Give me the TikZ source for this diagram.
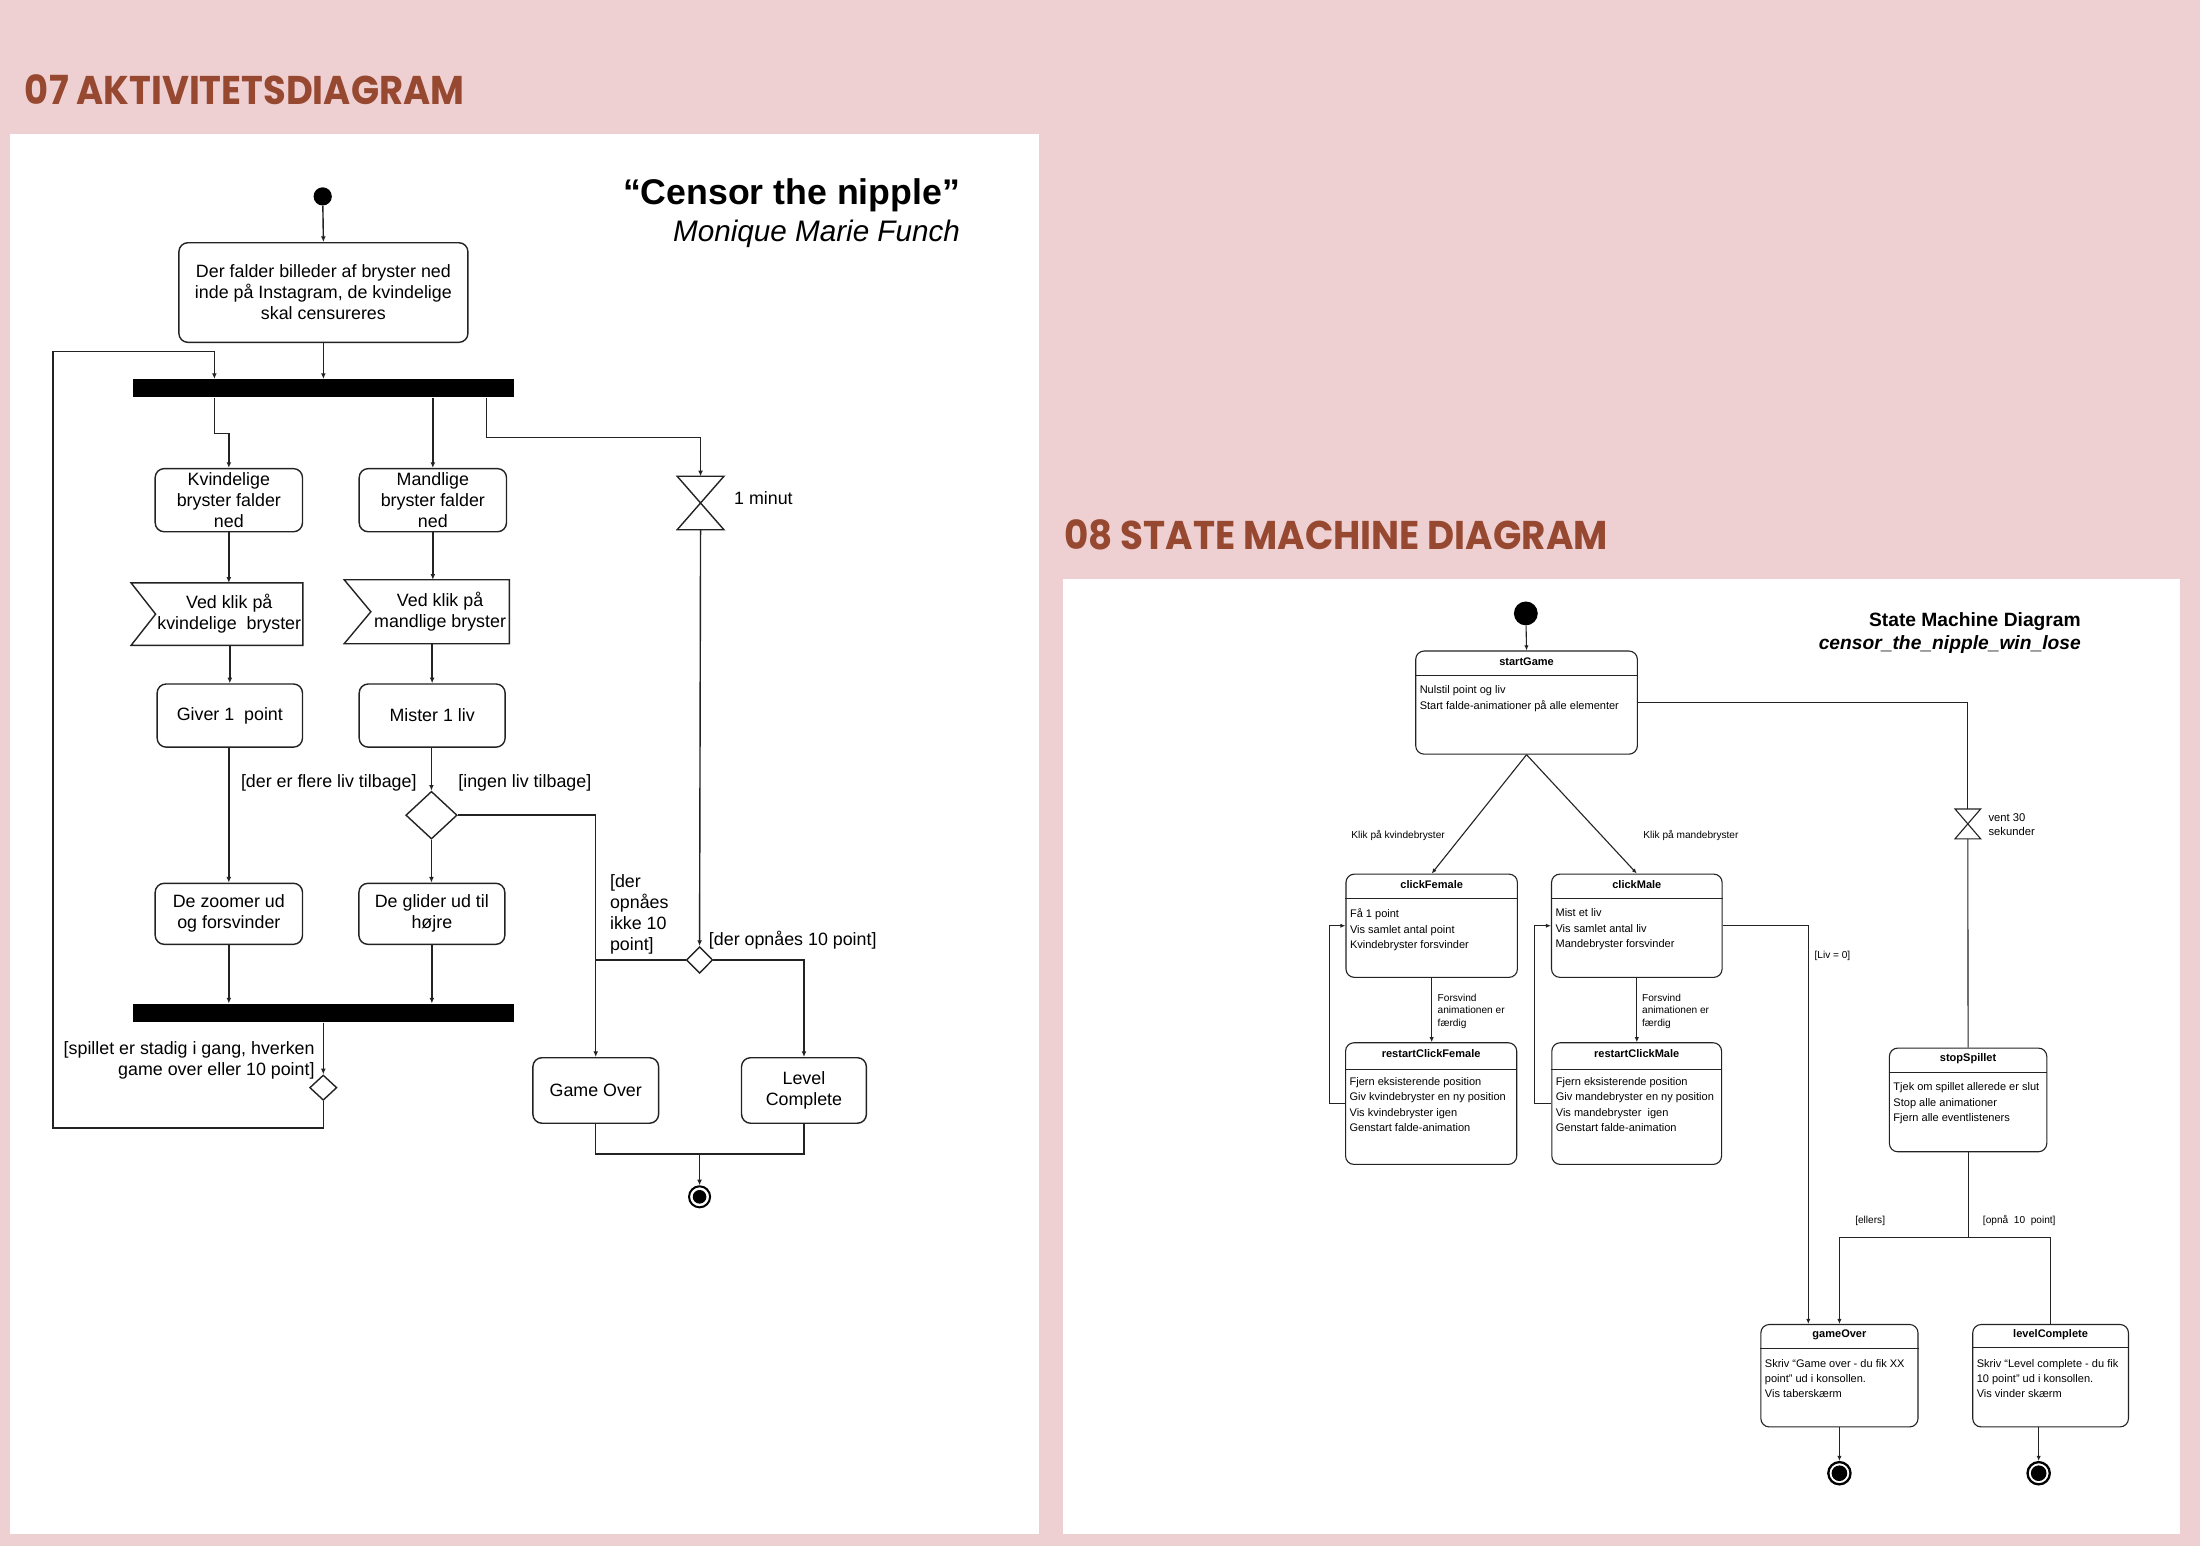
\documentclass[tikz,border=0pt]{standalone}
\usepackage{fontspec}
\setmainfont{Liberation Sans}
\newfontfamily\popfont{Poppins}
\usetikzlibrary{shapes.geometric,arrows.meta,calc}
\definecolor{bgpink}{RGB}{239,208,210}
\definecolor{headc}{RGB}{150,72,48}
\definecolor{lnc}{RGB}{35,35,35}
\newcommand\mkstate[8]{%
  \node[sbox, sz={#4}{#5}] (#1) at (#2,#3) {};
  \node[shead] (#1-h) at ($(#1.north)+(0,7.8)$) {#6};
  \draw[sline] ($(#1.north west)+(0,#7)$) -- ($(#1.north east)+(0,#7)$);
  \node[sbody] (#1-b) at ($(#1.north west)+(3,24.9)$) {#8};}
\begin{document}
\begin{tikzpicture}[x=0.7pt,y=-0.7pt,
  sz/.style 2 args={minimum width=#1*0.7pt, minimum height=#2*0.7pt},
  abox/.style={draw=lnc, line width=0.7pt, rounded corners=4.5pt, align=center, inner sep=0pt, font=\fontsize{8.9pt}{10.5pt}\selectfont},
  sigtext/.style={inner sep=0pt, align=center, font=\fontsize{8.9pt}{10.5pt}\selectfont},
  bar/.style={fill=black, draw=none, inner sep=0pt},
  adiam/.style={diamond, draw=lnc, line width=0.7pt, inner sep=0pt},
  aline/.style={draw=lnc, line width=0.7pt},
  arr/.style={draw=lnc, line width=0.7pt, -{Latex[length=2.8pt,width=2.4pt]}},
  alab/.style={inner sep=0pt, align=left, font=\fontsize{8.9pt}{10.5pt}\selectfont},
  sbox/.style={draw=lnc, line width=0.55pt, rounded corners=4.2pt, inner sep=0pt},
  shead/.style={inner sep=0pt, font=\fontsize{5.5pt}{7pt}\selectfont\bfseries},
  sbody/.style={inner sep=0pt, align=left, anchor=north west, font=\fontsize{5.5pt}{7.63pt}\selectfont},
  slab/.style={inner sep=0pt, align=left, anchor=west, font=\fontsize{5.05pt}{6.25pt}\selectfont},
  sline/.style={draw=lnc, line width=0.55pt},
  sarr/.style={draw=lnc, line width=0.55pt, -{Latex[length=2.5pt,width=2.1pt]}},
  heading/.style={anchor=base west, inner sep=0pt, text=headc, font=\popfont\fontsize{20pt}{24pt}\selectfont\bfseries}
]
% background and panels
\useasboundingbox (0,0) rectangle (1568,1102);
\fill[bgpink] (0,0) rectangle (1568,1102);
\fill[white] (7,95.7) rectangle (740.5,1093);
\fill[white] (757.6,412.7) rectangle (1553.8,1093);

\node[heading] (hd1) at (17.5,74.3) {\scalebox{0.92}[1]{07 AKTIVITETSDIAGRAM}};
\node[heading] (hd2) at (758.4,391.5) {\scalebox{0.93}[1]{08 STATE MACHINE DIAGRAM}};

% ================= Activity diagram =================
\node[anchor=base east, inner sep=0pt, font=\fontsize{17.8pt}{20pt}\selectfont\bfseries] (t1) at (684.5,145.5) {“Censor the nipple”};
\node[anchor=base east, inner sep=0pt, font=\fontsize{14.8pt}{17pt}\selectfont\itshape] (t2) at (684.5,172) {Monique Marie Funch};

\node[circle, fill=black, inner sep=0pt, minimum size=9.1pt] (ai) at (230,140) {};
\node[abox, sz={206}{71}] (a1) at (230.5,208.5) {Der falder billeder af bryster ned\\inde på Instagram, de kvindelige\\skal censureres};
\node[bar, sz={272}{12.8}] (b1) at (230.6,276.8) {};
\node[abox, sz={105}{45}] (kf) at (163.1,356.5) {Kvindelige\\bryster falder\\ned};
\node[abox, sz={105}{45}] (km) at (308.5,356.5) {Mandlige\\bryster falder\\ned};
\node[sigtext, sz={104.4}{44}] (sf) at (163.4,437.7) {Ved klik på\\kvindelige~~bryster};
\node[sigtext, sz={98.1}{45}] (sm) at (313.65,436) {Ved klik på\\mandlige bryster};
\draw[aline] ($(sf.north west)+(-17.5,0)$) -- (sf.north east) -- (sf.south east) -- ($(sf.south west)+(-17.5,0)$) -- (sf.west) -- cycle;
\draw[aline] ($(sm.north west)+(-19,0)$) -- (sm.north east) -- (sm.south east) -- ($(sm.south west)+(-19,0)$) -- (sm.west) -- cycle;
\node[abox, sz={103.6}{45}] (gv) at (163.8,510) {Giver 1~~point};
\node[abox, sz={104}{45}] (ms) at (308,510) {Mister 1 liv};
\node[adiam, sz={36.6}{34}] (d1) at (307.5,581) {};
\node[abox, sz={105}{43.5}] (zo) at (163.1,651.3) {De zoomer ud\\og forsvinder};
\node[abox, sz={104}{43.5}] (gl) at (307.8,651.3) {De glider ud til\\højre};
\node[bar, sz={271}{13}] (b2) at (230.5,722) {};
\node[adiam, sz={19.4}{18}] (d3) at (230.4,775.2) {};
\node[inner sep=0pt, sz={32.8}{37.6}] (h1) at (499.3,358.5) {};
\draw[aline] (h1.north west) -- (h1.north east) -- (h1.south west) -- (h1.south east) -- cycle;
\node[adiam, sz={18.8}{19}] (d2) at (498.6,684.2) {};
\node[abox, sz={89.6}{46.7}] (go1) at (424.6,777.2) {Game Over};
\node[abox, sz={89}{46.7}] (lc1) at (573,777.2) {Level\\Complete};
\node[circle, draw=black, line width=1pt, inner sep=0pt, minimum size=10.5pt] (af) at (498.6,853) {};
\fill[black] (af.center) circle[radius=3.4pt];

% activity labels
\node[alab, anchor=west] (l1) at (171.5,558) {[der er flere liv tilbage]};
\node[alab, anchor=west] (l2) at (326.4,558) {[ingen liv tilbage]};
\node[alab, anchor=west] (l3) at (434.5,651.9) {[der\\opnåes\\ikke 10\\point]};
\node[alab, anchor=west] (l4) at (505,670) {[der opnåes 10 point]};
\node[alab, anchor=east, align=right] (l5) at (224.5,755.5) {[spillet er stadig i gang, hverken\\game over eller 10 point]};
\node[alab, anchor=west] (l6) at (523,355) {1 minut};

% activity connectors
\coordinate (fL) at (152.8,309);
\coordinate (fR) at (346.9,311.7);
\coordinate (lpA) at (37.7,804);
\coordinate (lpB) at (152.8,250.7);
\coordinate (mg) at (498.6,822.5);
\draw[arr] (ai) -- (a1.north);
\draw[arr] (a1.south) -- (a1.south |- b1.north);
\draw[arr] (fL |- b1.south) -- (fL) -- (fL -| kf.north) -- (kf.north);
\draw[arr] (km.north |- b1.south) -- (km.north);
\draw[arr] (fR |- b1.south) -- (fR) -- (fR -| h1.north) -- (h1.north);
\draw[arr] (kf.south) -- (kf.south |- sf.north);
\draw[arr] (km.south) -- (km.south |- sm.north);
\draw[arr] (gv.north |- sf.south) -- (gv.north);
\draw[arr] (ms.north |- sm.south) -- (ms.north);
\draw[arr] (zo.north |- gv.south) -- (zo.north);
\draw[arr] (d1.north |- ms.south) -- (d1.north);
\draw[arr] (d1.south) -- (d1.south |- gl.north);
\draw[arr] (d1.east) -| (go1.north);
\draw[arr] (h1.south) -- (d2.north);
\draw[aline] (d2.west) -- (d2.west -| go1.north);
\draw[arr] (d2.east) -| (lc1.north);
\draw[arr] (zo.south) -- (zo.south |- b2.north);
\draw[arr] (gl.south) -- (gl.south |- b2.north);
\draw[arr] (d3.north |- b2.south) -- (d3.north);
\draw[arr] (d3.south) |- (lpA) -- (lpA |- lpB) -- (lpB) -- (lpB |- b1.north);
\draw[aline] (go1.south) |- (mg) -| (lc1.south);
\draw[arr] (mg) -- (af);

% ================= State machine diagram =================
\node[anchor=base east, inner sep=0pt, font=\fontsize{9.6pt}{11pt}\selectfont\bfseries] (t3) at (1483.3,446.2) {State Machine Diagram};
\node[anchor=base east, inner sep=0pt, font=\fontsize{9.6pt}{11pt}\selectfont\bfseries\itshape] (t4) at (1483.3,462.6) {censor\_the\_nipple\_win\_lose};

\node[circle, fill=black, inner sep=0pt, minimum size=11.9pt] (si) at (1087.5,437.2) {};
\mkstate{sg}{1088}{500.75}{158}{73.5}{startGame}{17.6}{Nulstil point og liv\\Start falde-animationer på alle elementer}
\mkstate{cf}{1020.4}{659.8}{122.2}{73.6}{clickFemale}{17.6}{Få 1 point\\Vis samlet antal point\\Kvindebryster forsvinder}
\mkstate{cm}{1166.6}{659.8}{121.6}{73.6}{clickMale}{17.6}{Mist et liv\\Vis samlet antal liv\\Mandebryster forsvinder}
\mkstate{rf}{1020}{786.55}{122}{86.7}{restartClickFemale}{19.7}{Fjern eksisterende position\\Giv kvindebryster en ny position\\Vis kvindebryster igen\\Genstart falde-animation}
\mkstate{rm}{1166.5}{786.55}{121}{86.7}{restartClickMale}{19.7}{Fjern eksisterende position\\Giv mandebryster en ny position\\Vis mandebryster~~igen\\Genstart falde-animation}
\mkstate{ss}{1402.7}{783.95}{112.2}{73.9}{stopSpillet}{17.5}{Tjek om spillet allerede er slut\\Stop alle animationer\\Fjern alle eventlisteners}
\mkstate{go}{1311}{980.5}{112}{73}{gameOver}{17.8}{Skriv “Game over - du fik XX\\point” ud i konsollen.\\Vis taberskærm}
\mkstate{lc}{1461.5}{980.5}{111}{73}{levelComplete}{17.1}{Skriv “Level complete - du fik\\10 point” ud i konsollen.\\Vis vinder skærm}

\node[inner sep=0pt, sz={17.7}{20.7}] (h2) at (1402.5,587.2) {};
\draw[sline] (h2.north west) -- (h2.north east) -- (h2.south west) -- (h2.south east) -- cycle;

\node[circle, draw=black, line width=1.15pt, inner sep=0pt, minimum size=11.1pt] (fin2) at (1311,1050) {};
\fill[black] (fin2.center) circle[radius=3.9pt];
\node[circle, draw=black, line width=1.15pt, inner sep=0pt, minimum size=11.1pt] (fin3) at (1453,1050) {};
\fill[black] (fin3.center) circle[radius=3.9pt];

% SM labels
\node[slab] (s1) at (962.9,595.6) {Klik på kvindebryster};
\node[slab] (s2) at (1171,595.6) {Klik på mandebryster};
\node[slab] (s3) at (1024.4,720.7) {Forsvind\\animationen er\\færdig};
\node[slab] (s4) at (1170.1,720.7) {Forsvind\\animationen er\\færdig};
\node[slab] (s5) at (1293,681.2) {[Liv = 0]};
\node[slab, font=\fontsize{5.6pt}{7pt}\selectfont] (s6) at (1417,588) {vent 30\\sekunder};
\node[slab] (s7) at (1322,870) {[ellers]};
\node[slab] (s8) at (1413,870) {[opnå~~10~~point]};

% SM connectors
\coordinate (lfx) at (947.6,0);
\coordinate (lmx) at (1093.6,0);
\coordinate (gx) at (1288.8,0);
\coordinate (sp) at (1402.7,882);
\draw[sarr] (si) -- (sg.north);
\draw[sarr] (sg.south) -- (cf.north);
\draw[sarr] (sg.south) -- (cm.north);
\draw[sline] (sg.east) -| (h2.north);
\draw[sline] (h2.south) -- (ss.north);
\draw[sarr] (cf.south) -- (cf.south |- rf.north);
\draw[sarr] (cm.south) -- (cm.south |- rm.north);
\draw[sarr] (rf.west) -- (rf.west -| lfx) |- (cf.west);
\draw[sarr] (rm.west) -- (rm.west -| lmx) |- (cm.west);
\draw[sarr] (cm.east) -| (gx |- go.north);
\draw[sline] (ss.south) -- (sp);
\draw[sarr] (sp) -| (go.north);
\draw[sline] (sp) -| (lc.north);
\draw[sarr] (go.south) -- (fin2);
\draw[sarr] (fin3 |- lc.south) -- (fin3);
\end{tikzpicture}
\end{document}
